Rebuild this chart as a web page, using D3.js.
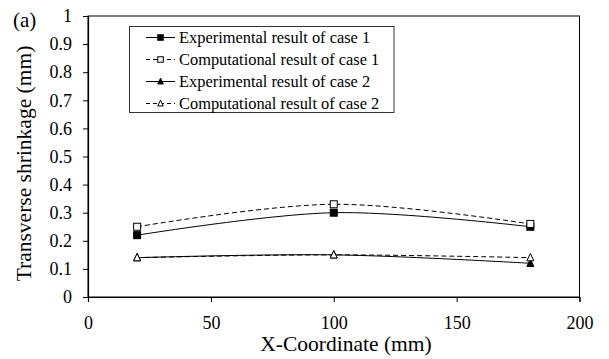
<!DOCTYPE html>
<html>
<head>
<meta charset="utf-8">
<script src="https://cdn.jsdelivr.net/npm/d3@7"></script>
<style>
  html, body { margin: 0; padding: 0; background: #fff; }
  svg { display: block; }
  svg text { font-family: "Liberation Serif", "Times New Roman", Times, serif; fill: #000; }
</style>
</head>
<body>
<svg id="chart" width="609" height="359"></svg>
<script>
// Measurement positions along the weld (mm)
const xCoords = [20, 100, 180];

// Transverse shrinkage (mm) for each series
const expCase1 = [0.22, 0.30, 0.25];
const compCase1 = [0.25, 0.33, 0.26];
const expCase2 = [0.14, 0.15, 0.12];
const compCase2 = [0.14, 0.15, 0.14];

const seriesNames = [
  "Experimental result of case 1",
  "Computational result of case 1",
  "Experimental result of case 2",
  "Computational result of case 2"
];

const xTicks = [0, 50, 100, 150, 200];
const yTicks = [0, 0.1, 0.2, 0.3, 0.4, 0.5, 0.6, 0.7, 0.8, 0.9, 1];

const series = [
  { name: seriesNames[0], values: expCase1, dashed: false, shape: "square", filled: true },
  { name: seriesNames[1], values: compCase1, dashed: true, shape: "square", filled: false },
  { name: seriesNames[2], values: expCase2, dashed: false, shape: "triangle", filled: true },
  { name: seriesNames[3], values: compCase2, dashed: true, shape: "triangle", filled: false }
];

const svg = d3.select("#chart");
const plot = { left: 88, top: 16, right: 579.5, bottom: 297 };

const x = d3.scaleLinear().domain([0, 200]).range([plot.left, plot.right]);
const y = d3.scaleLinear().domain([0, 1]).range([plot.bottom, plot.top]);

// Plot frame
svg.append("rect")
  .attr("x", plot.left).attr("y", plot.top)
  .attr("width", plot.right - plot.left).attr("height", plot.bottom - plot.top)
  .attr("fill", "none").attr("stroke", "#000").attr("stroke-width", 1);

const tickFont = 18;
const titleFont = 21.5;
const legendFont = 16.4;

// Y axis
const yAxis = svg.append("g")
  .attr("transform", `translate(${plot.left},0)`)
  .call(d3.axisLeft(y).tickValues(yTicks).tickSize(5).tickPadding(11)
    .tickFormat(d => d === 0 || d === 1 ? String(d) : d3.format(".1f")(d)));
yAxis.attr("font-family", null).attr("font-size", null);
yAxis.select(".domain").attr("stroke", "#000").attr("stroke-width", 1.2);
yAxis.selectAll(".tick line").attr("stroke", "#000");
yAxis.selectAll(".tick text").style("font-size", tickFont + "px");

// X axis
const xAxis = svg.append("g")
  .attr("transform", `translate(0,${plot.bottom})`)
  .call(d3.axisBottom(x).tickValues(xTicks).tickSize(5).tickPadding(14));
xAxis.attr("font-family", null).attr("font-size", null);
xAxis.select(".domain").attr("stroke", "#000").attr("stroke-width", 1.2);
xAxis.selectAll(".tick line").attr("stroke", "#000");
xAxis.selectAll(".tick text").style("font-size", tickFont + "px");

// Axis titles
svg.append("text")
  .attr("x", 346).attr("y", 350.5)
  .attr("text-anchor", "middle").style("font-size", titleFont + "px")
  .text("X-Coordinate (mm)");

svg.append("text")
  .attr("transform", `translate(31,163.5) rotate(-90)`)
  .attr("text-anchor", "middle").style("font-size", titleFont + "px")
  .text("Transverse shrinkage (mm)");

svg.append("text")
  .attr("x", 13).attr("y", 27)
  .style("font-size", "21px")
  .text("(a)");

// Smoothed series lines
const line = d3.line()
  .x((d, i) => x(xCoords[i]))
  .y(d => y(d))
  .curve(d3.curveCatmullRom.alpha(0));

function marker(g, shape, filled, cx, cy, size) {
  if (shape === "square") {
    g.append("rect")
      .attr("x", cx - size / 2).attr("y", cy - size / 2)
      .attr("width", size).attr("height", size)
      .attr("fill", filled ? "#000" : "#fff")
      .attr("stroke", "#000").attr("stroke-width", 1);
  } else {
    g.append("path")
      .attr("d", `M${cx},${cy - size * 0.6}L${cx + size / 2},${cy + size * 0.45}L${cx - size / 2},${cy + size * 0.45}Z`)
      .attr("fill", filled ? "#000" : "#fff")
      .attr("stroke", "#000").attr("stroke-width", 1);
  }
}

const lines = svg.append("g");
series.forEach(s => {
  lines.append("path")
    .datum(s.values)
    .attr("d", line)
    .attr("fill", "none")
    .attr("stroke", "#000")
    .attr("stroke-width", 1)
    .attr("stroke-dasharray", s.dashed ? "5,3" : null);
});

const marks = svg.append("g");
series.forEach(s => {
  s.values.forEach((v, i) => marker(marks, s.shape, s.filled, x(xCoords[i]), y(v), 7));
});

// Legend
const legend = svg.append("g");
legend.append("rect")
  .attr("x", 129.5).attr("y", 26.5).attr("width", 264.5).attr("height", 86)
  .attr("fill", "#fff").attr("stroke", "#333").attr("stroke-width", 1);

series.forEach((s, i) => {
  const ly = 37.5 + i * 22;
  legend.append("line")
    .attr("x1", 146).attr("x2", 175).attr("y1", ly).attr("y2", ly)
    .attr("stroke", "#000").attr("stroke-width", 1)
    .attr("stroke-dasharray", s.dashed ? "4,3" : null);
  marker(legend, s.shape, s.filled, 160.5, ly, 5.5);
  legend.append("text")
    .attr("x", 179).attr("y", ly + 5.5)
    .style("font-size", legendFont + "px")
    .text(s.name);
});
</script>
</body>
</html>
